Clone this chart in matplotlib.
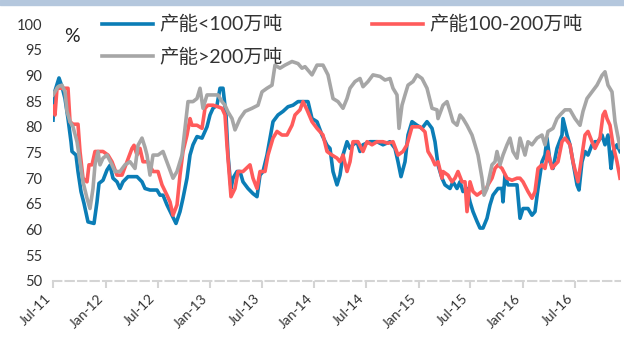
"""Capacity utilisation by plant size, weekly, Jul-2011 to Dec-2016."""

import matplotlib
matplotlib.use("Agg")
import matplotlib.dates as mdates
import matplotlib.pyplot as plt
import numpy as np
import pandas as pd
from matplotlib.patches import Rectangle

plt.rcParams["font.family"] = ["Lato", "Noto Sans CJK SC", "DejaVu Sans"]

START = pd.Timestamp("2011-07-01")

# weeks since START, utilisation (%)
small_weeks = [0, 1, 3, 4.5, 6, 7.5, 9, 9.5, 11.5, 12.5, 14, 15.5, 17.5, 20.5, 22, 23,
               25, 27, 28.5, 30, 32, 33.5, 35, 37.5, 42, 44.5, 46, 48.5, 52, 53.5, 55,
               57, 59.5, 61.5, 63.5, 65, 67, 68.5, 70, 72, 74.5, 77, 78.5, 80, 82, 83.5,
               85, 86.5, 87.5, 89, 90, 92, 93.5, 95, 97.5, 100, 102, 103.5, 105, 107,
               108.5, 110, 112.5, 115, 117.5, 120, 122.5, 125, 127.5, 129.5, 132, 134.5,
               137, 138.5, 140, 142, 143.5, 145, 147, 148.5, 150, 152, 153.5, 155, 158.5,
               162, 165, 168.5, 171, 172.5, 174, 176, 177.5, 179.5, 182, 184.5, 187,
               189.5, 191, 192.5, 194.5, 196, 198.5, 200, 202, 203.5, 205, 207, 208.5,
               210, 212, 213.5, 215, 217, 218.5, 220, 222.5, 224.5, 225, 226, 227.5, 230,
               232, 233.5, 235, 237.5, 239.5, 241, 242.5, 244.5, 246, 247, 248.5, 250,
               252, 254.5, 255, 257, 258.5, 260, 262, 263, 264.5, 266, 267.5, 269.5, 271,
               272.5, 274.5, 276, 277.5, 279, 280, 282, 283.5]
small_vals = [81.3, 87.0, 89.5, 87.8, 85.5, 81.6, 77.1, 75.2, 74.5, 71.3, 67.4, 65.1,
              61.5, 61.2, 65.4, 69.0, 69.6, 71.6, 72.5, 70.0, 69.3, 68.0, 69.3, 70.3,
              70.3, 69.3, 68.0, 67.7, 67.7, 66.7, 66.7, 64.8, 62.8, 61.2, 63.5, 66.1,
              70.0, 74.5, 76.5, 78.1, 77.8, 80.0, 82.3, 83.6, 84.2, 87.5, 87.5, 82.3,
              74.5, 68.0, 70.0, 71.3, 71.3, 69.3, 68.0, 67.0, 66.4, 70.6, 71.3, 74.5,
              77.8, 81.0, 82.3, 83.0, 83.9, 84.2, 84.9, 84.9, 84.9, 81.6, 81.0, 78.4,
              76.4, 75.8, 71.3, 68.7, 70.6, 74.5, 77.1, 75.8, 76.5, 77.1, 75.2, 76.5,
              77.1, 77.1, 76.5, 77.1, 75.8, 73.2, 70.3, 73.2, 78.4, 81.0, 80.3, 79.7,
              81.0, 79.7, 77.1, 72.6, 70.0, 68.7, 68.0, 69.3, 68.0, 69.3, 67.4, 68.0,
              65.4, 63.5, 61.6, 60.3, 60.3, 62.2, 64.8, 66.7, 68.0, 68.0, 65.4, 70.6,
              68.7, 68.7, 68.7, 62.2, 64.1, 64.1, 62.8, 63.5, 68.0, 73.2, 74.5, 77.8,
              73.2, 71.9, 75.8, 78.4, 81.6, 78.4, 76.5, 73.2, 68.7, 67.7, 73.2, 75.2,
              74.5, 76.5, 77.1, 77.1, 78.4, 76.5, 78.4, 71.9, 75.2, 76.5, 75.2]

mid_weeks = [0, 1, 2, 5, 7.5, 8.5, 10, 12.5, 13.5, 15, 17, 18, 19.5, 21, 25, 27.5,
             29.5, 32, 34.5, 37, 39.5, 40.5, 42, 43.5, 45, 47.5, 50, 52.5, 54.5, 57,
             58.5, 60, 62, 63.5, 65, 67, 68.5, 69.5, 72, 74.5, 76, 77.5, 80, 82.5, 84.5,
             86, 87, 88, 89, 91, 92.5, 95, 98.5, 100, 102, 103.5, 106, 107.5, 110, 112,
             114.5, 117, 119.5, 121, 123.5, 125, 127, 129.5, 132, 135, 137, 139.5, 142,
             143.5, 145, 147, 148.5, 150, 152.5, 155, 157, 159.5, 162, 165, 167.5, 170,
             172.5, 175, 177, 179.5, 183.5, 186, 187.5, 189.5, 191, 192.5, 194.5, 195,
             197.5, 199.5, 201, 202.5, 204.5, 206, 207, 208.5, 210, 212, 214.5, 216,
             217.5, 219.5, 221, 222.5, 224.5, 227, 229.5, 232, 233.5, 235, 237.5, 239.5,
             241, 242.5, 244.5, 246, 247.5, 249.5, 251, 252.5, 254.5, 256, 258.5, 260,
             262.5, 264.5, 266, 267.5, 269.5, 271, 273.5, 275, 276, 277, 278.5, 280,
             282, 283.5]
mid_vals = [84.0, 82.3, 87.5, 87.5, 87.5, 81.0, 80.5, 80.5, 75.2, 70.0, 69.3, 72.6,
            72.6, 75.2, 75.2, 74.5, 73.2, 70.6, 70.6, 73.2, 75.8, 76.4, 74.5, 75.8,
            73.2, 73.2, 71.3, 71.3, 68.7, 66.7, 65.4, 62.8, 64.8, 70.6, 75.2, 78.4,
            81.6, 80.3, 80.3, 79.7, 83.6, 84.2, 84.2, 83.9, 83.6, 82.3, 76.4, 71.3,
            66.4, 68.0, 71.3, 71.3, 72.6, 70.0, 68.0, 71.3, 71.3, 74.5, 77.8, 79.1,
            78.4, 78.4, 80.3, 82.3, 83.3, 84.9, 83.3, 81.0, 79.7, 78.4, 75.2, 74.5,
            73.9, 73.2, 74.5, 71.3, 73.2, 77.1, 77.1, 75.2, 77.1, 76.5, 77.1, 77.1,
            76.8, 77.1, 74.5, 75.2, 76.5, 80.0, 80.0, 79.0, 75.2, 73.9, 72.6, 73.2,
            70.0, 71.3, 70.6, 69.3, 70.0, 71.3, 69.3, 69.3, 63.5, 69.3, 67.4, 66.7,
            67.4, 67.4, 68.7, 70.0, 71.9, 72.6, 71.9, 70.0, 69.6, 70.0, 70.0, 69.3,
            67.4, 66.1, 67.4, 71.9, 72.6, 71.9, 75.2, 71.9, 72.6, 73.2, 77.1, 77.8,
            76.5, 73.2, 69.3, 74.5, 78.4, 79.1, 77.1, 75.8, 77.8, 82.3, 83.0, 81.6,
            80.3, 76.5, 73.2, 70.0]

large_weeks = [0, 2.5, 4.5, 6, 7, 8.5, 10, 12, 13.5, 15, 17, 18.5, 20, 21, 22.5, 23.5,
               25, 27, 29.5, 31, 33.5, 36, 38.5, 41, 42.5, 44.5, 46, 47, 48.5, 50, 52.5,
               55, 57.5, 60, 62, 64.5, 66, 67.5, 70, 72, 73.5, 75, 77, 79.5, 82.5, 84.5,
               86, 87.5, 89.5, 91, 93.5, 96, 99.5, 102.5, 104.5, 107, 109.5, 111, 113.5,
               116, 119.5, 122.5, 124.5, 126, 129.5, 132, 135, 137.5, 140, 142.5, 145,
               147, 148.5, 151, 153.5, 155, 157.5, 160, 163.5, 166, 168.5, 170, 172, 173,
               174.5, 176, 177.5, 180, 182, 184.5, 187, 189.5, 192, 192.5, 195, 197,
               198.5, 200, 202, 203.5, 205, 207, 209.5, 211, 212.5, 214.5, 215.5, 217,
               219.5, 221, 222, 223.5, 225, 227, 228.5, 230, 232, 233.5, 236, 237.5,
               239.5, 242, 244.5, 246, 247.5, 250, 252, 253.5, 256, 258.5, 261, 263.5,
               265, 267, 269.5, 272, 274.5, 276, 277.5, 279.5, 281, 283.5]
large_vals = [86.2, 87.8, 88.1, 86.8, 83.0, 81.0, 80.0, 77.1, 73.2, 69.3, 66.1, 64.1,
              68.0, 72.6, 75.2, 72.6, 73.9, 74.5, 72.6, 71.3, 71.3, 72.6, 73.2, 71.9,
              76.4, 77.8, 76.0, 74.5, 70.6, 74.5, 74.5, 75.2, 72.6, 70.0, 71.3, 74.5,
              79.7, 84.9, 84.9, 85.5, 87.5, 83.6, 86.2, 86.2, 86.2, 84.9, 84.2, 82.9,
              81.6, 79.4, 81.6, 83.0, 83.6, 84.2, 86.8, 87.5, 88.1, 92.0, 91.4, 92.0,
              92.7, 92.3, 91.4, 91.7, 90.1, 92.0, 92.0, 90.1, 85.5, 84.9, 83.6, 85.5,
              87.5, 88.8, 89.4, 87.8, 88.8, 90.1, 89.8, 89.1, 89.4, 87.5, 86.2, 79.7,
              84.2, 86.2, 88.1, 88.8, 90.1, 89.4, 87.5, 83.6, 83.3, 81.6, 84.2, 84.9,
              83.0, 81.0, 80.3, 82.3, 81.6, 80.3, 78.4, 76.5, 74.5, 70.0, 66.7, 68.0,
              72.6, 73.2, 75.2, 72.6, 74.5, 76.5, 77.8, 75.2, 73.9, 77.8, 74.5, 77.1,
              76.5, 77.8, 78.4, 76.5, 79.1, 79.7, 81.6, 82.3, 83.3, 83.3, 81.6, 80.3,
              83.0, 85.5, 86.8, 88.1, 90.0, 90.7, 88.1, 86.8, 81.0, 76.0]

labels = ["产能<100万吨", "产能>200万吨", "产能100-200万吨"]
colors = ["#0b7db6", "#a6a6a6", "#ff5b5b"]


def to_dates(weeks):
    return START + pd.to_timedelta(np.asarray(weeks) * 7, unit="D")


fig = plt.figure(figsize=(6.24, 3.40), dpi=100)
ax = fig.add_axes([53 / 624, 1 - 281 / 340, 567 / 624, 257 / 340])

series = [(small_weeks, small_vals), (large_weeks, large_vals), (mid_weeks, mid_vals)]
zorders = [2, 4, 3]
handles = []
for (weeks, vals), label, color, z in zip(series, labels, colors, zorders):
    (line,) = ax.plot(to_dates(weeks), vals, color=color, lw=2.6, label=label,
                      solid_joinstyle="round", zorder=z)
    handles.append(line)

ax.set_ylim(50, 100)
ax.set_yticks(np.arange(50, 101, 5))
ax.set_xlim(START, to_dates([283.5])[0])
ax.xaxis.set_major_locator(mdates.MonthLocator(bymonth=[1, 7]))
ax.xaxis.set_major_formatter(mdates.DateFormatter("%b-%y"))
plt.setp(ax.get_xticklabels(), rotation=45, ha="right")

for side in ["left", "right", "top"]:
    ax.spines[side].set_visible(False)
ax.spines["bottom"].set_color("#d4d4d4")
ax.spines["bottom"].set_linewidth(1.5)
ax.spines["bottom"].set_linestyle((0, (4, 2)))
ax.tick_params(axis="x", colors="#d4d4d4", length=5, width=1.5, labelcolor="#333333",
               labelsize=10, pad=3)
ax.tick_params(axis="y", length=0, labelcolor="#333333", labelsize=10.5, pad=8)

fig.legend(handles, labels, ncol=2, loc="upper left", bbox_to_anchor=(102 / 624, 1 - 15 / 340),
           frameon=False, fontsize=14, handlelength=2.6, handletextpad=0.35,
           columnspacing=4.6, labelspacing=0.75, borderpad=0, borderaxespad=0,
           labelcolor="#333333")

fig.text(72 / 624, 1 - 36 / 340, "%", fontsize=14, ha="center", va="center", color="#222222")
fig.patches.append(Rectangle((0, 1 - 5 / 340), 1, 5 / 340, transform=fig.transFigure,
                             color="#b4c7dd", zorder=0))

fig.savefig("out.png", dpi=100)
